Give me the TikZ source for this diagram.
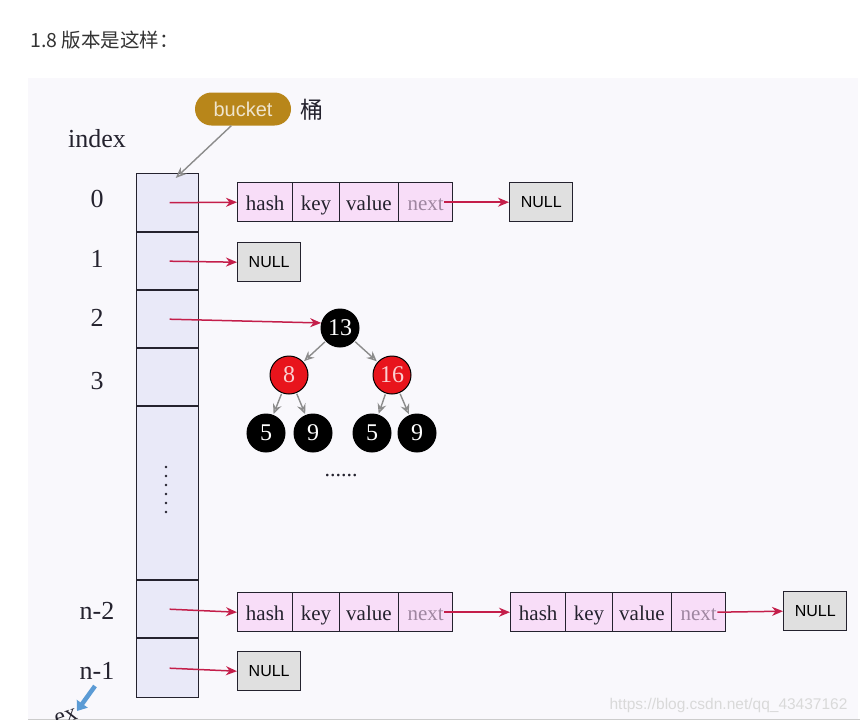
\documentclass[tikz,border=0pt]{standalone}
\usepackage{fontspec}
\setmainfont{Liberation Serif}
\setsansfont{Liberation Sans}
\newfontfamily\cjkfont{Noto Sans CJK SC}
\usetikzlibrary{arrows.meta,shapes.misc}

\definecolor{panelbg}{HTML}{F9F8FC}
\definecolor{cellbg}{HTML}{E9E9F8}
\definecolor{entrybg}{HTML}{F8DDF8}
\definecolor{nullbg}{HTML}{E0E0E0}
\definecolor{linkred}{HTML}{C41E4A}
\definecolor{rbred}{HTML}{E8141C}
\definecolor{bucketgold}{HTML}{B8861A}
\definecolor{nextgray}{HTML}{9E86A0}
\definecolor{markblue}{HTML}{5B9BD5}
\definecolor{inkdark}{HTML}{24222E}

\tikzset{
  idxcell/.style={draw=inkdark, line width=1.4pt, fill=cellbg, minimum width=62pt,
    inner sep=0pt, anchor=north west},
  idxlabel/.style={font=\fontsize{26}{28}\selectfont, text=inkdark},
  entrycell/.style={draw=inkdark, line width=1.4pt, fill=entrybg, minimum height=39pt,
    inner sep=0pt, anchor=north west, text height=19pt, text depth=3pt,
    font=\fontsize{21}{22}\selectfont, text=inkdark},
  nullbox/.style={draw=inkdark, line width=1.4pt, fill=nullbg, minimum width=63pt,
    minimum height=39pt, inner sep=0pt, anchor=north west,
    font=\sffamily\fontsize{16}{18}\selectfont},
  link/.style={draw=linkred, line width=1.5pt, -{Stealth[length=11pt,width=9pt,inset=3.5pt]}},
  treelink/.style={draw=black!45, line width=1.4pt, shorten <=1pt, shorten >=1pt,
    -{Stealth[length=10pt,width=9pt,inset=3.5pt,open]}},
  rbnode/.style={circle, draw=black, line width=1pt, fill=black, minimum size=38pt,
    inner sep=0pt, text=white, font=\fontsize{24}{24}\selectfont},
  rbred/.style={rbnode, fill=rbred, text=white!80!rbred}
}

% one hash entry: name, left x, top y
\newcommand{\hashentry}[3]{%
  \node[entrycell, minimum width=55pt] (#1-hash) at (#2,#3) {hash};
  \node[entrycell, minimum width=46.5pt] (#1-key) at ([xshift=-1.4pt]#1-hash.north east) {key};
  \node[entrycell, minimum width=59.5pt] (#1-value) at ([xshift=-1.4pt]#1-key.north east) {value};
  \node[entrycell, minimum width=54pt, text=nextgray] (#1-next) at ([xshift=-1.4pt]#1-value.north east) {next};
}

\begin{document}
\begin{tikzpicture}[x=1pt,y=-1pt]
  \useasboundingbox (0,0) rectangle (860,724);
  \fill[white] (0,0) rectangle (860,724);
  \fill[panelbg] (28,78) rectangle (858,719);
  \draw[black!20, line width=1pt] (28,719) -- (860,719);

  \node[anchor=west, inner sep=0pt, text=black!80, font=\cjkfont\fontsize{19.5}{20}\selectfont] (title) at (30,40) {1.8 版本是这样：};

  % bucket label
  \node[rounded rectangle, fill=bucketgold, minimum width=96pt, minimum height=33pt,
    inner sep=0pt, text=white!78!bucketgold, font=\sffamily\fontsize{20}{20}\selectfont] (bucket) at (243,109) {bucket};
  \node[font=\cjkfont\fontsize{23}{23}\selectfont, text=inkdark] (tong) at (312,110) {桶};
  \node[idxlabel] (index) at (97,139) {index};

  % index column
  \foreach \n/\y/\h in {0/173/58,1/232/57,2/290/57,3/348/57,4/406/173,5/580/57,6/638/59}
    \node[idxcell, minimum height=\h pt] (c\n) at (136,\y) {};
  \foreach \k in {0,...,5}
    \fill[inkdark] (166,467+\k*9) circle (1.4pt);
  \draw[black!45, line width=1.4pt, -{Stealth[length=11pt,width=9pt,inset=3.5pt,open]}]
    (bucket.235) -- ([xshift=8pt,yshift=-5pt]c0.north);

  \node[idxlabel] (l0) at (97,199) {0};
  \node[idxlabel] (l1) at (97,259) {1};
  \node[idxlabel] (l2) at (97,318) {2};
  \node[idxlabel] (l3) at (97,381) {3};
  \node[idxlabel] (l5) at (97,611) {n-2};
  \node[idxlabel] (l6) at (97,671) {n-1};

  % row 0
  \hashentry{e0}{237}{182}
  \node[nullbox] (n0) at (509,182) {NULL};
  \draw[link] ([xshift=2pt]c0.center) -- (e0-hash.west);
  \draw[link] ([xshift=-9pt]e0-next.east) -- (n0.west);

  % row 1
  \node[nullbox] (n1) at (237,242) {NULL};
  \draw[link] ([xshift=2pt]c1.center) -- (n1.west);

  % row 2: red-black tree
  \node[rbnode] (t13) at (340,328) {13};
  \node[rbred] (t8) at (289,375) {8};
  \node[rbred] (t16) at (392,375) {16};
  \node[rbnode] (t5a) at (266,433) {5};
  \node[rbnode] (t9a) at (313,433) {9};
  \node[rbnode] (t5b) at (372,433) {5};
  \node[rbnode] (t9b) at (417,433) {9};
  \draw[link] ([xshift=2pt]c2.center) -- (t13.165);
  \draw[treelink] (t13) -- (t8);
  \draw[treelink] (t13) -- (t16);
  \draw[treelink] (t8) -- (t5a);
  \draw[treelink] (t8) -- (t9a);
  \draw[treelink] (t16) -- (t5b);
  \draw[treelink] (t16) -- (t9b);
  \node[font=\fontsize{22}{22}\selectfont, text=inkdark] (more) at (341,476) {......};

  % row n-2
  \hashentry{e5}{237}{592}
  \hashentry{e5b}{510}{592}
  \node[nullbox] (n5) at (783,591) {NULL};
  \draw[link] ([xshift=2pt]c5.center) -- (e5-hash.west);
  \draw[link] ([xshift=-9pt]e5-next.east) -- (e5b-hash.west);
  \draw[link] ([xshift=-9pt]e5b-next.east) -- (n5.west);

  % row n-1
  \node[nullbox] (n6) at (237,651) {NULL};
  \draw[link] ([xshift=2pt]c6.center) -- (n6.west);

  \node[anchor=east, text=black!15, font=\sffamily\fontsize{15.5}{16}\selectfont] (mark) at (851,705) {https://blog.csdn.net/qq\_43437162};

  % cut-off note at the bottom
  \begin{scope}
    \clip (0,690) rectangle (860,719);
    \node[rotate=18, font=\fontsize{24}{24}\selectfont, text=inkdark] (cut) at (66,717) {ex};
  \end{scope}
  \coordinate (cutarrow) at (77,711);
  \draw[markblue, line width=4.5pt, -{Triangle[length=9pt,width=13pt]}] (95,686) -- (cutarrow);
\end{tikzpicture}
\end{document}
